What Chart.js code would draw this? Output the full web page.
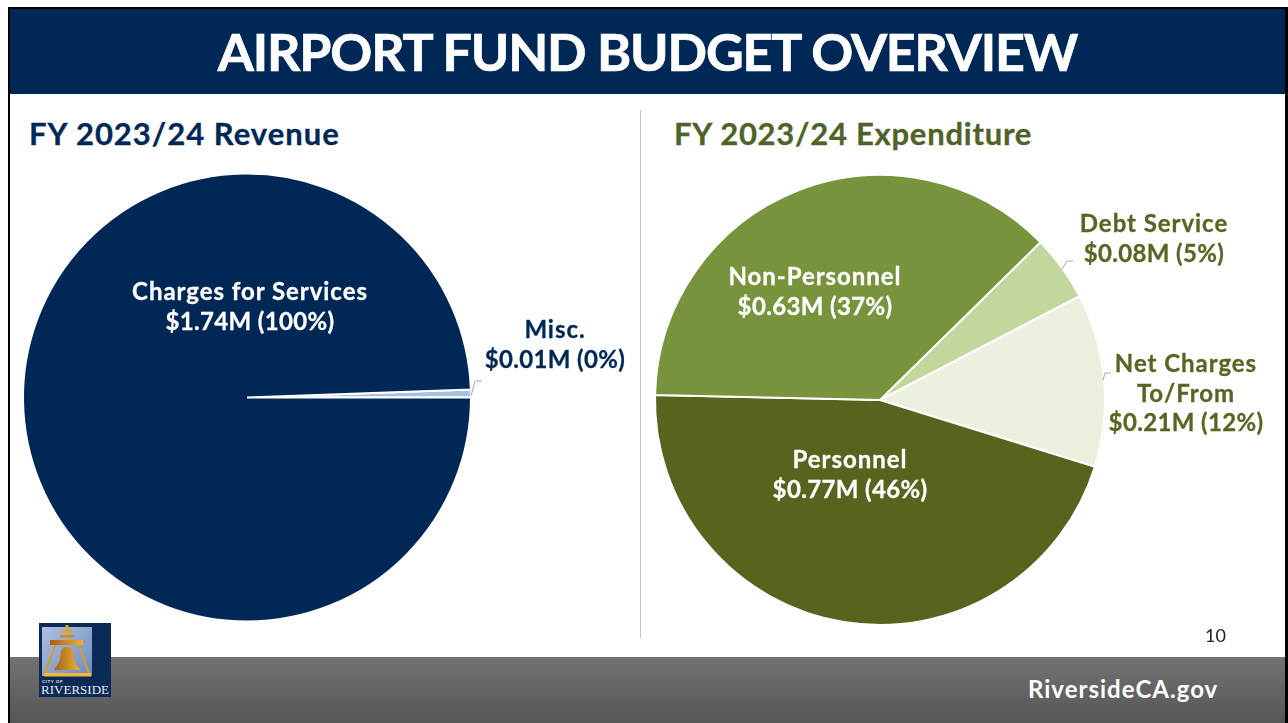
<!DOCTYPE html>
<html>
<head>
<meta charset="utf-8">
<title>Airport Fund Budget Overview</title>
<script src="https://cdn.jsdelivr.net/npm/chart.js@4/dist/chart.umd.min.js"></script>
<style>
html,body{margin:0;padding:0;background:#fff;}
body{position:relative;width:1288px;height:723px;overflow:hidden;font-family:Lato,"Open Sans",sans-serif;}
.abs{position:absolute;white-space:nowrap;}
#frameL{left:8px;top:7px;width:2px;height:716px;background:#000;}
#frameT{left:8px;top:7px;width:1280px;height:2px;background:#000;}
#frameR{left:1285px;top:7px;width:3px;height:716px;background:#000;}
#header{left:10px;top:9px;width:1275px;height:85px;background:#002856;}
#title{left:10px;top:9px;width:1275px;height:85px;line-height:85px;text-align:center;color:#fff;font-size:52px;font-weight:700;letter-spacing:-1.15px;-webkit-text-stroke:.7px #fff;}
.sub{font-size:31px;font-weight:700;line-height:40px;top:113px;-webkit-text-stroke:.3px;}
#subRev{left:29px;color:#002856;letter-spacing:1px;}
#subExp{left:674px;color:#4f6228;letter-spacing:.75px;}
#divider{left:640px;top:110px;width:1px;height:528px;background:#c6c6c6;}
#footer{left:10px;top:657px;width:1275px;height:66px;background:linear-gradient(#727272,#565656);}
#site{left:1028px;top:673px;color:#fff;font-size:24px;font-weight:700;line-height:32px;letter-spacing:1px;}
#page{left:1205px;top:623px;color:#222;font-size:18px;line-height:24px;}
#logo{left:39px;top:623px;}
canvas{position:absolute;}
.lbl{position:absolute;transform:translateX(-50%);text-align:center;font-size:24px;font-weight:700;line-height:29.5px;letter-spacing:.95px;white-space:nowrap;-webkit-text-stroke:.3px;}
.lbl span{letter-spacing:.35px;}
#leaders{position:absolute;left:0;top:0;}
</style>
</head>
<body>
<div class="abs" id="header"></div>
<div class="abs" id="title">AIRPORT FUND BUDGET OVERVIEW</div>
<div class="abs sub" id="subRev">FY 2023/24 Revenue</div>
<div class="abs sub" id="subExp">FY 2023/24 Expenditure</div>
<div class="abs" id="divider"></div>
<canvas id="revChart" width="640" height="620" style="left:0;top:90px"></canvas>
<canvas id="expChart" width="640" height="620" style="left:641px;top:90px"></canvas>
<svg id="leaders" width="1288" height="723" fill="none" stroke="#a6a6a6" stroke-width="1">
	<polyline points="471,396 475,381 482,381"/>
	<polyline points="1062,269 1067,261 1073,261"/>
	<polyline points="1103,380 1105,373 1111,373"/>
</svg>
<div class="abs" id="footer"></div>
<div class="abs" id="frameL"></div>
<div class="abs" id="frameT"></div>
<div class="abs" id="frameR"></div>
<div class="abs" id="site">RiversideCA.gov</div>
<div class="abs" id="page">10</div>
<svg class="abs" id="logo" width="72" height="74" viewBox="0 0 72 74">
	<defs>
		<linearGradient id="sky" x1="0" y1="0" x2="1" y2="1"><stop offset="0" stop-color="#aebfe0"/><stop offset="1" stop-color="#6f8cbb"/></linearGradient>
		<linearGradient id="gold" x1="0" y1="0" x2="1" y2="0"><stop offset="0" stop-color="#a9601a"/><stop offset="1" stop-color="#eab233"/></linearGradient>
	</defs>
	<rect width="72" height="74" fill="#0b2a55"/>
	<rect x="3" y="4" width="50" height="49" fill="url(#sky)"/>
	<rect x="26.5" y="2" width="3" height="16" fill="#e0a52c"/>
	<rect x="22" y="7" width="12" height="2.5" fill="#e0a52c"/>
	<rect x="21" y="12" width="14" height="2.5" fill="#c98a28"/>
	<rect x="11" y="17" width="33" height="5" fill="url(#gold)"/>
	<path d="M16 22 L6 51 M40 22 L50 51" stroke="#d99a28" stroke-width="2.2"/>
	<path d="M28 24 C35 24 34 30 35 36 C36 41 39 43 41 47 L15 47 C17 43 20 41 21 36 C22 30 21 24 28 24Z" fill="url(#gold)"/>
	<rect x="5" y="50" width="47" height="3.5" fill="#eeb93a"/>
	<text x="3" y="60" font-family="Lato" font-size="4.5" font-weight="700" fill="#e6ebf2" letter-spacing=".6">CITY OF</text>
	<text x="2" y="71" font-family="Liberation Serif" font-size="12" fill="#e6ebf2" textLength="68" lengthAdjust="spacingAndGlyphs">RIVERSIDE</text>
</svg>

<script>
var revCategories=['Misc.','Charges for Services'];
var revValues=[0.01,1.74];
var revAmounts=['$0.01M (0%)','$1.74M (100%)'];
var revColors=['#a9c0e0','#002856'];

var expCategories=['Debt Service','Net Charges\nTo/From','Personnel','Non-Personnel'];
var expValues=[0.08,0.21,0.77,0.63];
var expAmounts=['$0.08M (5%)','$0.21M (12%)','$0.77M (46%)','$0.63M (37%)'];
var expColors=['#c3d69b','#ebf1de','#58631e','#77933c'];

// label centres on the page, same order as the categories
var revLabelPos=[[555,314],[250,276]];
var revLabelColors=['#002856','#ffffff'];
var expLabelPos=[[1154,208],[1186,348],[850,444],[815,261]];
var expLabelColors=['#5a6523','#5a6523','#ffffff','#ffffff'];

function makePie(id,cats,vals,colors,rotation,pad){
	return new Chart(document.getElementById(id),{
		type:'pie',
		data:{
			labels:cats,
			datasets:[{data:vals,backgroundColor:colors,borderColor:'#ffffff',borderWidth:2,hoverOffset:0}]
		},
		options:{
			responsive:false,
			animation:false,
			rotation:rotation,
			layout:{padding:pad},
			plugins:{legend:{display:false},tooltip:{enabled:false}}
		}
	});
}

function addLabels(cats,amounts,pos,colors){
	for(var i=0;i<cats.length;i++){
		var d=document.createElement('div');
		d.className='lbl';
		d.style.left=pos[i][0]+'px';
		d.style.top=pos[i][1]+'px';
		d.style.color=colors[i];
		d.innerHTML=cats[i].split('\n').join('<br>')+'<br><span>'+amounts[i]+'</span>';
		document.body.appendChild(d);
	}
}

makePie('revChart',revCategories,revValues,revColors,87.94,{left:22,top:82,right:168,bottom:87});
makePie('expChart',expCategories,expValues,expColors,45.5,{left:13,top:84,right:175,bottom:84});
addLabels(revCategories,revAmounts,revLabelPos,revLabelColors);
addLabels(expCategories,expAmounts,expLabelPos,expLabelColors);
</script>
</body>
</html>
